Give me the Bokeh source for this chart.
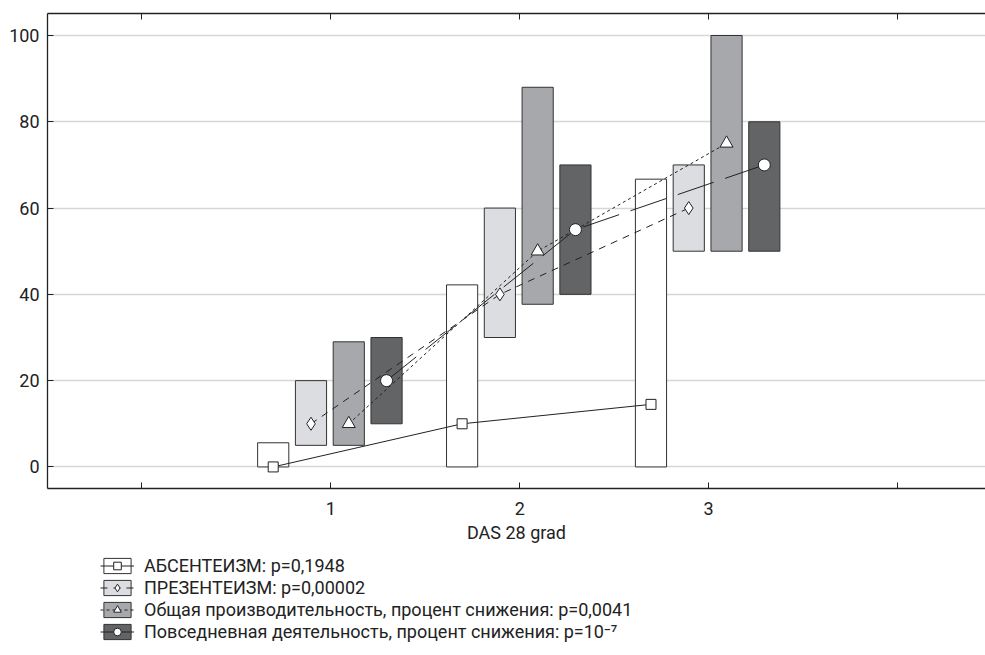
from bokeh.plotting import figure
from bokeh.models import Range1d, LinearAxis, FixedTicker, Legend, LegendItem, ColumnDataSource
from bokeh.layouts import column
from bokeh.embed import file_html
from bokeh.resources import INLINE

# ---- data ----
groups = [1, 2, 3]
x_ticks = [0, 1, 2, 3, 4]
y_ticks = [0, 20, 40, 60, 80, 100]
x_title = "DAS 28 grad"

labels = [
    "АБСЕНТЕИЗМ: p=0,1948",
    "ПРЕЗЕНТЕИЗМ: p=0,00002",
    "Общая производительность, процент снижения: p=0,0041",
    "Повседневная деятельность, процент снижения: p=10\u207b\u2077",
]

absent_median = [0, 10, 14.5]
absent_low = [0, 0, 0]
absent_high = [5.6, 42.2, 66.7]

present_median = [10, 40, 60]
present_low = [5, 30, 50]
present_high = [20, 60, 70]

overall_median = [10, 50, 75]
overall_low = [5, 37.7, 50]
overall_high = [29, 88, 100]

daily_median = [20, 55, 70]
daily_low = [10, 40, 50]
daily_high = [30, 70, 80]

# ---- styling ----
FONT = "Roboto"
FS = "18px"
TXT = "#222222"
offsets = [-0.305, -0.105, 0.095, 0.295]
bar_w = 0.165
fills = ["#ffffff", "#dcdde0", "#a7a8ac", "#636466"]
markers = ["square", "diamond", "triangle", "circle"]
msizes = [10, 13, 13, 12]
dashes = ["solid", "7 6", "3 3", "38 12"]

series = [
    (absent_median, absent_low, absent_high),
    (present_median, present_low, present_high),
    (overall_median, overall_low, overall_high),
    (daily_median, daily_low, daily_high),
]

p = figure(width=985, height=545, output_backend="svg", toolbar_location=None,
           x_range=Range1d(-0.5, 4.466), y_range=Range1d(-5, 105.1),
           min_border_left=47, min_border_right=0, min_border_top=13,
           min_border_bottom=57)
p.outline_line_color = None
p.background_fill_color = "white"
p.border_fill_color = "white"

for i, (med, lo, hi) in enumerate(series):
    xs = [g + offsets[i] for g in groups]
    src = ColumnDataSource(dict(x=xs, med=med, lo=lo, hi=hi))
    p.vbar(x="x", width=bar_w, bottom="lo", top="hi", source=src,
           fill_color=fills[i], line_color="#333333", line_width=1)

for i, (med, lo, hi) in enumerate(series):
    xs = [g + offsets[i] for g in groups]
    src = ColumnDataSource(dict(x=xs, med=med))
    p.line(x="x", y="med", source=src, line_color="#222222", line_width=1,
           line_dash=dashes[i])

for i, (med, lo, hi) in enumerate(series):
    xs = [g + offsets[i] for g in groups]
    src = ColumnDataSource(dict(x=xs, med=med))
    p.scatter(x="x", y="med", source=src, marker=markers[i], size=msizes[i],
              fill_color="white", line_color="#222222", line_width=1)

# axes
xa = p.xaxis[0]
xa.ticker = FixedTicker(ticks=x_ticks)
xa.major_label_overrides = {0: "", 4: ""}
xa.axis_label = x_title
ya = p.yaxis[0]
ya.ticker = FixedTicker(ticks=y_ticks)

for ax in (xa, ya):
    ax.axis_line_color = "#222222"
    ax.axis_line_width = 1.3
    ax.major_tick_line_color = "#222222"
    ax.major_tick_in = 6
    ax.major_tick_out = 0
    ax.minor_tick_line_color = None
    ax.major_label_text_font = FONT
    ax.major_label_text_font_size = FS
    ax.major_label_text_color = TXT
    ax.axis_label_text_font = FONT
    ax.axis_label_text_font_size = FS
    ax.axis_label_text_font_style = "normal"
    ax.axis_label_text_color = TXT
ya.major_label_standoff = 8
xa.major_label_standoff = 13
xa.axis_label_standoff = 4

top = LinearAxis(ticker=FixedTicker(ticks=x_ticks), major_tick_in=6, major_tick_out=0,
                 major_label_overrides={t: "" for t in x_ticks}, major_label_standoff=0,
                 axis_line_color="#222222", axis_line_width=1.3,
                 major_tick_line_color="#222222", minor_tick_line_color=None)
p.add_layout(top, "above")

p.xgrid.visible = False
p.ygrid.grid_line_color = "#d6d6d6"
p.ygrid.grid_line_width = 1.5

# ---- legend panel (separate figure under the chart) ----
q = figure(width=985, height=100, output_backend="svg", toolbar_location=None,
           x_range=Range1d(0, 1), y_range=Range1d(0, 1),
           x_axis_type=None, y_axis_type=None,
           min_border_left=0, min_border_right=0, min_border_top=0, min_border_bottom=0)
q.outline_line_color = None
q.grid.visible = False
q.border_fill_color = "white"
q.background_fill_color = "white"

items = []
for i in range(4):
    # legend swatches (placed far outside the view; only their legend glyphs show)
    rb = q.vbar(x=[-50], width=0.1, bottom=[-60], top=[-59],
                fill_color=fills[i], line_color="#333333", line_width=1)
    rl = q.line(x=[-50, -49], y=[-60, -60], line_color="#222222", line_width=1,
                line_dash=dashes[i])
    rm = q.scatter(x=[-50], y=[-60], marker=markers[i], size=msizes[i],
                   fill_color="white", line_color="#222222", line_width=1)
    items.append(LegendItem(label=labels[i], renderers=[rb, rl, rm]))

legend = Legend(items=items, location=(53, 3), orientation="vertical",
                glyph_width=34, glyph_height=19, spacing=1, label_standoff=10,
                padding=0, margin=0, border_line_color=None, background_fill_alpha=0,
                label_text_font=FONT, label_text_font_size=FS,
                label_text_color=TXT, label_height=19)
q.add_layout(legend)

layout = column(p, q, spacing=0)
open("out.html", "w").write(file_html(layout, INLINE))
